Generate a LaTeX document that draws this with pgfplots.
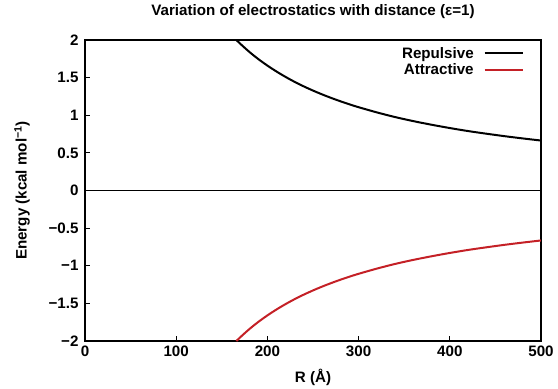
\documentclass[border=0pt]{standalone}
\usepackage{fontspec}
\setmainfont{Liberation Sans}
\usepackage{pgfplots}
\pgfplotsset{compat=1.18}
\definecolor{attr}{RGB}{196,32,38}
\begin{document}
\begin{tikzpicture}
\begin{axis}[
  scale only axis,
  width=456bp, height=301bp,
  xmin=0, xmax=500, ymin=-2, ymax=2,
  xtick={0,100,200,300,400,500},
  ytick={-2,-1.5,-1,-0.5,0,0.5,1,1.5,2},
  yticklabels={−2,−1.5,−1,−0.5,0,0.5,1,1.5,2},
  xticklabels={0,100,200,300,400,500},
  tick align=inside,
  xtick pos=bottom, ytick pos=left,
  major tick length=5bp,
  axis line style={line width=1.3bp},
  tick style={line width=1bp, black},
  font=\fontsize{15.2}{17}\selectfont\bfseries,
  ticklabel style={font=\fontsize{15.2}{17}\selectfont\bfseries},
  xticklabel style={yshift=-1bp},
  yticklabel style={xshift=-3bp},
  title={Variation of electrostatics with distance (ε=1)},
  title style={at={(axis description cs:0.5,1.073)}, anchor=center, font=\fontsize{15.2}{17}\selectfont\bfseries},
  xlabel={R (Å)},
  xlabel style={at={(axis description cs:0.5,-0.12)}, anchor=center},
  ylabel={Energy (kcal mol\textsuperscript{−1})},
  ylabel style={at={(axis description cs:-0.1380,0.5)}, anchor=center, rotate=0},
  legend plot pos=right,
  legend image code/.code={\draw[#1] (0bp,0bp) -- (38bp,0bp);},
  legend style={draw=none, fill=none, at={(axis description cs:0.969,0.99)}, anchor=north east,
    font=\fontsize{15.2}{17}\selectfont\bfseries, row sep=0bp, column sep=8bp,
    cells={anchor=east}},
  clip=true,
]
\addplot[black, line width=0.8bp, forget plot] coordinates {(0,0) (500,0)};
\addplot[black, line width=2bp, smooth] coordinates {
(166,2.000) (170,1.953) (180,1.844) (190,1.747) (200,1.660) (210,1.581)
(220,1.509) (230,1.443) (240,1.383) (250,1.328) (260,1.277) (270,1.230)
(280,1.186) (290,1.145) (300,1.107) (320,1.038) (340,0.976) (360,0.922)
(380,0.874) (400,0.830) (420,0.790) (440,0.755) (460,0.722) (480,0.692)
(500,0.664)};
\addlegendentry{Repulsive}
\addplot[attr, line width=2bp, smooth] coordinates {
(166,-2.000) (170,-1.953) (180,-1.844) (190,-1.747) (200,-1.660) (210,-1.581)
(220,-1.509) (230,-1.443) (240,-1.383) (250,-1.328) (260,-1.277) (270,-1.230)
(280,-1.186) (290,-1.145) (300,-1.107) (320,-1.038) (340,-0.976) (360,-0.922)
(380,-0.874) (400,-0.830) (420,-0.790) (440,-0.755) (460,-0.722) (480,-0.692)
(500,-0.664)};
\addlegendentry{Attractive}
\end{axis}
\path (current axis.south west) ++(-85bp,-46bp) coordinate (bbA);
\path (current axis.south west) ++(473bp,341bp) coordinate (bbB);
\path[use as bounding box] (bbA) rectangle (bbB);
\end{tikzpicture}
\end{document}
